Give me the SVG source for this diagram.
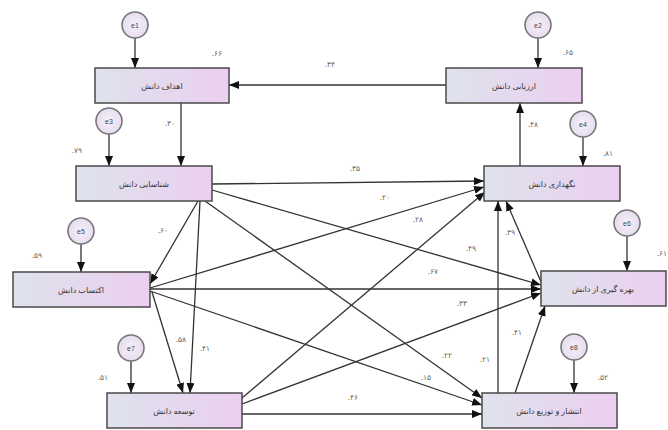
<svg xmlns="http://www.w3.org/2000/svg" width="668" height="430" viewBox="0 0 668 430">
<defs>
<linearGradient id="bx" x1="0" y1="0" x2="1" y2="0">
<stop offset="0" stop-color="#dfe2ec"/>
<stop offset="1" stop-color="#ebcff0"/>
</linearGradient>
<radialGradient id="ci" cx="0.5" cy="0.5" r="0.5">
<stop offset="0" stop-color="#f6f0fa"/>
<stop offset="1" stop-color="#e6dcef"/>
</radialGradient>
<marker id="ah" markerUnits="userSpaceOnUse" markerWidth="10" markerHeight="8" refX="10" refY="4" orient="auto">
<path d="M0,0 L10,4 L0,8 z" fill="#111"/>
</marker>
<style>
.box{fill:url(#bx);stroke:#4a4a4a;stroke-width:1.5}
.cir{fill:url(#ci);stroke:#777;stroke-width:1.6}
.bt{font-family:"Noto Sans","DejaVu Sans",sans-serif;font-size:8px;fill:#333;text-anchor:middle;dominant-baseline:central}
.ct{font-family:"Liberation Sans",sans-serif;font-size:7px;fill:#444;text-anchor:middle;dominant-baseline:central}
.nl{font-family:"Noto Sans","DejaVu Sans",sans-serif;font-size:7.5px;fill:#666;text-anchor:middle;dominant-baseline:central}
.ln{stroke:#333;stroke-width:1.3;fill:none;marker-end:url(#ah)}
</style>
</defs>
<rect width="668" height="430" fill="#fff"/>
<g id="connectors">
<path class="ln" d="M446,85 L229,85"/>
<path class="ln" d="M181,103 L181,166"/>
<path class="ln" d="M520,166 L520,103"/>
<path class="ln" d="M212,184 L484,181"/>
<path class="ln" d="M212,190 L541,285"/>
<path class="ln" d="M198,201 L150,284"/>
<path class="ln" d="M200,201 L190,393"/>
<path class="ln" d="M205,201 L482,398"/>
<path class="ln" d="M150,288 L484,187"/>
<path class="ln" d="M150,289 L541,289"/>
<path class="ln" d="M150,291 L482,405"/>
<path class="ln" d="M152,292 L183,393"/>
<path class="ln" d="M242,398 L485,192"/>
<path class="ln" d="M242,404 L541,293"/>
<path class="ln" d="M242,414 L482,414"/>
<path class="ln" d="M498,393 L498,201"/>
<path class="ln" d="M515,393 L545,306"/>
<path class="ln" d="M542,284 L506,201"/>
<path class="ln" d="M135,38 L135,68"/>
<path class="ln" d="M538,38 L538,68"/>
<path class="ln" d="M109,134 L109,166"/>
<path class="ln" d="M583,137 L583,166"/>
<path class="ln" d="M81,244 L81,272"/>
<path class="ln" d="M627,236 L627,271"/>
<path class="ln" d="M131,361 L131,393"/>
<path class="ln" d="M574,360 L574,393"/>
</g>
<g id="labels">
<text class="nl" x="330" y="64">.۳۴</text>
<text class="nl" x="170" y="123">.۳۰</text>
<text class="nl" x="533" y="124">.۴۸</text>
<text class="nl" x="355" y="168">.۳۵</text>
<text class="nl" x="385" y="197">.۲۰</text>
<text class="nl" x="418" y="219">.۲۸</text>
<text class="nl" x="471" y="248">.۴۹</text>
<text class="nl" x="433" y="271">.۶۷</text>
<text class="nl" x="462" y="303">.۳۳</text>
<text class="nl" x="447" y="355">.۲۲</text>
<text class="nl" x="426" y="377">.۱۵</text>
<text class="nl" x="353" y="397">.۴۶</text>
<text class="nl" x="485" y="359">.۲۱</text>
<text class="nl" x="517" y="332">.۴۱</text>
<text class="nl" x="510" y="232">.۳۹</text>
<text class="nl" x="163" y="230">.۶۰</text>
<text class="nl" x="181" y="339">.۵۸</text>
<text class="nl" x="205" y="348">.۴۱</text>
<text class="nl" x="217" y="53">.۶۶</text>
<text class="nl" x="568" y="52">.۶۵</text>
<text class="nl" x="77" y="150">.۷۹</text>
<text class="nl" x="608" y="153">.۸۱</text>
<text class="nl" x="37" y="255">.۵۹</text>
<text class="nl" x="662" y="253">.۶۱</text>
<text class="nl" x="103" y="377">.۵۱</text>
<text class="nl" x="603" y="377">.۵۲</text>
</g>
<g id="n-goals"><rect class="box" x="95" y="68" width="134" height="35"/><text class="bt" x="162" y="85">اهداف دانش</text></g>
<g id="n-assess"><rect class="box" x="446" y="68" width="136" height="35"/><text class="bt" x="514" y="85">ارزیابی دانش</text></g>
<g id="n-identify"><rect class="box" x="76" y="166" width="136" height="35"/><text class="bt" x="144" y="183">شناسایی دانش</text></g>
<g id="n-retain"><rect class="box" x="484" y="166" width="136" height="35"/><text class="bt" x="552" y="183">نگهداری دانش</text></g>
<g id="n-acquire"><rect class="box" x="13" y="272" width="137" height="35"/><text class="bt" x="81" y="289">اکتساب دانش</text></g>
<g id="n-use"><rect class="box" x="541" y="271" width="125" height="35"/><text class="bt" x="603" y="288">بهره گیری از دانش</text></g>
<g id="n-develop"><rect class="box" x="107" y="393" width="135" height="35"/><text class="bt" x="174" y="410">توسعه دانش</text></g>
<g id="n-share"><rect class="box" x="482" y="393" width="135" height="35"/><text class="bt" x="549" y="410">انتشار و توزیع دانش</text></g>
<g id="e1"><circle class="cir" cx="135" cy="25" r="13"/><text class="ct" x="135" y="25">e1</text></g>
<g id="e2"><circle class="cir" cx="538" cy="25" r="13"/><text class="ct" x="538" y="25">e2</text></g>
<g id="e3"><circle class="cir" cx="109" cy="121" r="13"/><text class="ct" x="109" y="121">e3</text></g>
<g id="e4"><circle class="cir" cx="583" cy="124" r="13"/><text class="ct" x="583" y="124">e4</text></g>
<g id="e5"><circle class="cir" cx="81" cy="231" r="13"/><text class="ct" x="81" y="231">e5</text></g>
<g id="e6"><circle class="cir" cx="627" cy="223" r="13"/><text class="ct" x="627" y="223">e6</text></g>
<g id="e7"><circle class="cir" cx="131" cy="348" r="13"/><text class="ct" x="131" y="348">e7</text></g>
<g id="e8"><circle class="cir" cx="574" cy="347" r="13"/><text class="ct" x="574" y="347">e8</text></g>
</svg>
